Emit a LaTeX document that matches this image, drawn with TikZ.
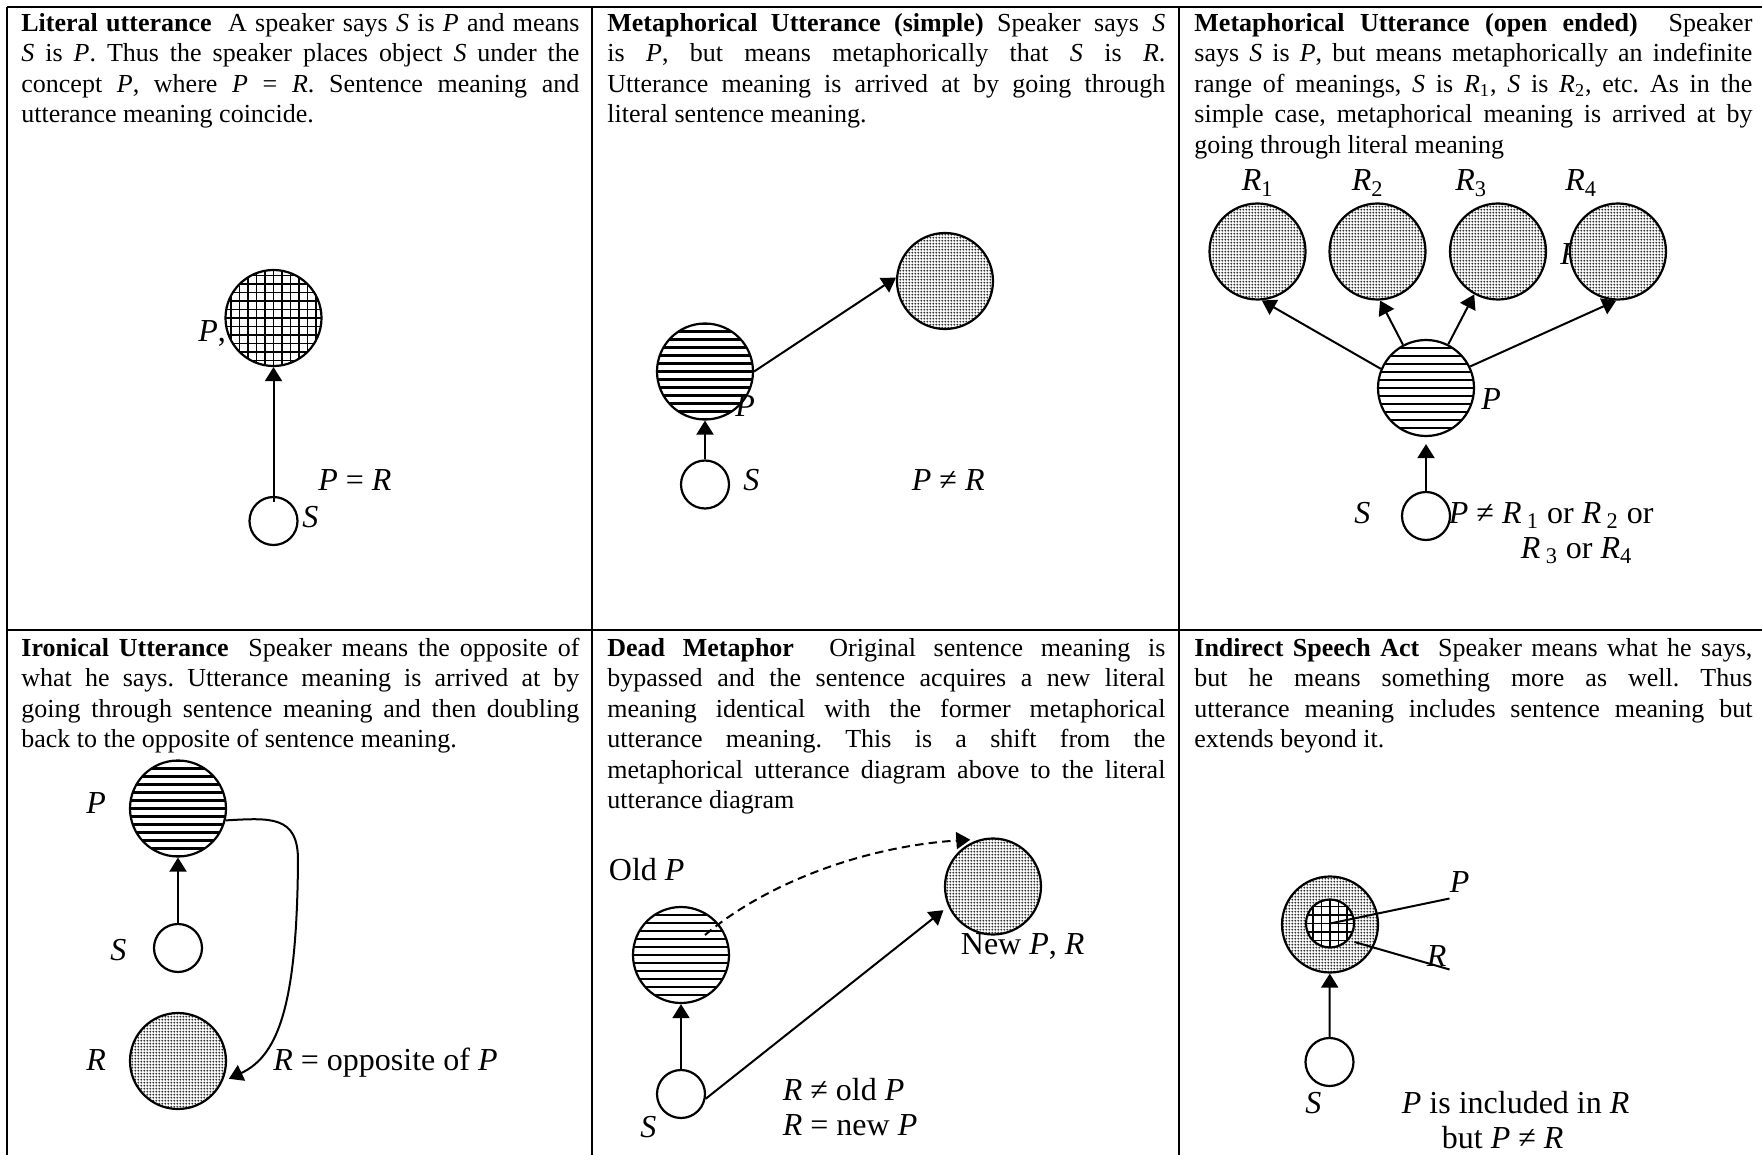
\documentclass[tikz,border=0pt]{standalone}
\usepackage{fontspec}
\setmainfont{Liberation Serif}
\usetikzlibrary{arrows.meta,patterns}
\pgfdeclarepatternformonly{finedots}{\pgfpointorigin}{\pgfpoint{1.4pt}{1.4pt}}{\pgfpoint{1.4pt}{1.4pt}}{%
  \pgfpathcircle{\pgfpoint{0.7pt}{0.7pt}}{0.55pt}\pgfusepath{fill}}
\hyphenpenalty=10000
\exhyphenpenalty=10000
\frenchspacing
\tikzset{
  border/.style={line width=1.3pt},
  body/.style={anchor=base west, inner sep=0pt, text width=279pt, align=justify,
    font=\fontsize{13}{15.25}\selectfont\frenchspacing},
  lbl/.style={anchor=base west, inner sep=0pt, font=\fontsize{16}{19}\selectfont},
  circbase/.style={circle, draw, line width=1.1pt, inner sep=0pt, fill=white},
  scirc/.style={circbase, minimum size=24pt},
  hl/.style={circbase, minimum size=48pt, path picture={
    \foreach \k in {-6,...,6}{
      \draw[line width=1.1pt] ([yshift=\k*4pt]path picture bounding box.west) -- ([yshift=\k*4pt]path picture bounding box.east);
    }}},
  xhatch/.style={circbase, path picture={
    \foreach \k in {-6,...,6}{
      \draw[line width=0.95pt] ([yshift=\k*4.25pt]path picture bounding box.west) -- ([yshift=\k*4.25pt]path picture bounding box.east);
      \draw[line width=0.95pt] ([xshift=\k*4.25pt]path picture bounding box.north) -- ([xshift=\k*4.25pt]path picture bounding box.south);
    }}},
  dotc/.style={circbase, minimum size=48pt, path picture={
    \fill[pattern=finedots, pattern color=black!80] (path picture bounding box.south west) rectangle (path picture bounding box.north east);}},
  arr/.style={line width=1pt, -{Triangle[length=7pt,width=8.5pt]}},
  darr/.style={arr, dash pattern={on 4.2pt off 2.6pt}},
  plain/.style={line width=1pt}
}
\begin{document}
\begin{tikzpicture}[x=0.5pt,y=-0.5pt]
\useasboundingbox (0,0) rectangle (1762,1155);
% table
\draw[border] (7,7) -- (1762,7);
\draw[border] (7,7) -- (7,1155);
\draw[border] (592,7) -- (592,1155);
\draw[border] (1179,7) -- (1179,1155);
\draw[border] (7,630) -- (1762,630);

% texts
\node[body] (t1) at (21,31.5) {\textbf{Literal utterance}\ \ A speaker says \textit{S} is \textit{P} and means\linebreak
\textit{S} is \textit{P}. Thus the speaker places object \textit{S} under the\linebreak
concept \textit{P}, where \textit{P} = \textit{R}. Sentence meaning and\linebreak
utterance meaning coincide.};
\node[body] (t2) at (607,31.5) {\textbf{Metaphorical Utterance (simple)} Speaker says \textit{S}\linebreak
is \textit{P}, but means metaphorically that \textit{S} is \textit{R}.\linebreak
Utterance meaning is arrived at by going through\linebreak
literal sentence meaning.};
\node[body] (t3) at (1194,31.5) {\textbf{Metaphorical Utterance (open ended)}\ \ Speaker\linebreak
says \textit{S} is \textit{P}, but means metaphorically an indefinite\linebreak
range of meanings, \textit{S} is \textit{R}\textsubscript{1}, \textit{S} is \textit{R}\textsubscript{2}, etc. As in the\linebreak
simple case, metaphorical meaning is arrived at by\linebreak
going through literal meaning};
\node[body] (t4) at (21,656) {\textbf{Ironical Utterance}\ \ Speaker means the opposite of\linebreak
what he says. Utterance meaning is arrived at by\linebreak
going through sentence meaning and then doubling\linebreak
back to the opposite of sentence meaning.};
\node[body] (t5) at (607,656) {\textbf{Dead Metaphor}\ \ Original sentence meaning is\linebreak
bypassed and the sentence acquires a new literal\linebreak
meaning identical with the former metaphorical\linebreak
utterance meaning. This is a shift from the\linebreak
metaphorical utterance diagram above to the literal\linebreak
utterance diagram};
\node[body] (t6) at (1194,656) {\textbf{Indirect Speech Act}\ \ Speaker means what he says,\linebreak
but he means something more as well. Thus\linebreak
utterance meaning includes sentence meaning but\linebreak
extends beyond it.};

% cell 1: literal
\node[xhatch, minimum size=48pt] (P1) at (273.5,318) {};
\node[scirc] (S1) at (273.5,521) {};
\draw[arr, shorten <=-3pt] (S1.north) -- (P1);
\node[lbl] (lP1) at (198,342) {\textit{P},};
\node[lbl] (lS1) at (302,527) {\textit{S}};
\node[lbl] (lE1) at (318,490.5) {\textit{P} = \textit{R}};

% cell 2: metaphor simple
\node[hl] (P2) at (705,371.5) {};
\node[dotc] (R2) at (945,281) {};
\node[scirc] (S2) at (705,484.5) {};
\draw[arr] (S2.north) -- (P2);
\draw[arr] (P2.east) -- (R2.176);
\node[lbl] (lP2) at (735,416) {\textit{P}};
\node[lbl] (lS2) at (743,490) {\textit{S}};
\node[lbl] (lE2) at (911.5,490) {\textit{P} ≠ \textit{R}};

% cell 3: metaphor open ended
\node[lbl] (hR) at (1560,265) {\textit{R}};
\node[dotc] (R31) at (1257.5,251.5) {};
\node[dotc] (R32) at (1377.5,251.5) {};
\node[dotc] (R33) at (1498,251.5) {};
\node[dotc] (R34) at (1618,251.5) {};
\node[lbl] (lR31) at (1241.5,191) {\textit{R}\textsubscript{1}};
\node[lbl] (lR32) at (1351.5,191) {\textit{R}\textsubscript{2}};
\node[lbl] (lR33) at (1455,191) {\textit{R}\textsubscript{3}};
\node[lbl] (lR34) at (1565,191) {\textit{R}\textsubscript{4}};
\node[hl] (P3) at (1426,388) {};
\node[scirc] (S3) at (1426,516) {};
\draw[arr, shorten >=3.5pt] (S3.north) -- (P3);
\draw[arr] (P3.157) -- (R31.-85);
\draw[arr] (P3.118) -- (R32.-87);
\draw[arr] (P3.63) -- (R33.-119);
\draw[arr] (P3.26) -- (R34.-92);
\node[lbl] (lP3) at (1481,409) {\textit{P}};
\node[lbl] (lS3) at (1354,523.5) {\textit{S}};
\node[lbl] (lE3a) at (1448.5,523.5) {\textit{P} ≠ \textit{R}\,\textsubscript{1} or \textit{R}\,\textsubscript{2} or};
\node[lbl] (lE3b) at (1520.5,558.5) {\textit{R}\,\textsubscript{3} or \textit{R}\textsubscript{4}};

% cell 4: ironical
\node[hl] (P4) at (178,808.5) {};
\node[scirc] (S4) at (178,948) {};
\node[dotc] (R4) at (178,1061) {};
\draw[arr] (S4.north) -- (P4);
\draw[arr, shorten >=3.5pt] (P4.-14) .. controls (270,818) and (298,815) .. (298,860)
  .. controls (297,1000) and (280,1055) .. (R4.-25);
\node[lbl] (lP4) at (86,813.5) {\textit{P}};
\node[lbl] (lS4) at (110,960) {\textit{S}};
\node[lbl] (lR4) at (86,1070.5) {\textit{R}};
\node[lbl] (lE4) at (273,1070) {\textit{R} = opposite of \textit{P}};

% cell 5: dead metaphor
\node[hl] (OP5) at (681,955) {};
\node[dotc] (NP5) at (993,886.5) {};
\node[scirc] (S5) at (681,1094) {};
\draw[arr] (S5.north) -- (OP5);
\draw[arr, shorten >=3pt] (S5.-11) -- (NP5.204);
\coordinate (d5) at (705,935);
\draw[darr, shorten >=5pt] (d5) .. controls (770,880) and (870,846) .. (NP5.105);
\node[lbl] (lOP5) at (608.5,880) {Old \textit{P}};
\node[lbl] (lNP5) at (960.5,954) {New \textit{P}, \textit{R}};
\node[lbl] (lS5) at (640,1137) {\textit{S}};
\node[lbl] (lE5a) at (782.5,1100) {\textit{R} ≠ old \textit{P}};
\node[lbl] (lE5b) at (782.5,1135) {\textit{R} = new \textit{P}};

% cell 6: indirect speech act
\node[dotc] (R6) at (1330,924.5) {};
\node[xhatch, minimum size=24pt] (P6) at (1330,923.5) {};
\node[scirc] (S6) at (1329.5,1062) {};
\draw[arr] (S6.north) -- (R6);
\coordinate (cP6) at (1449.5,898.5);
\coordinate (cR6) at (1449.5,969.5);
\node[lbl] (lP6) at (1449.5,892.5) {\textit{P}};
\node[lbl] (lR6) at (1426.5,966) {\textit{R}};
\draw[plain] (P6.center) -- (cP6);
\draw[plain, shorten <=3pt] (P6.-42) -- (cR6);
\node[lbl] (lS6) at (1305,1113) {\textit{S}};
\node[lbl] (lE6a) at (1401.5,1113.5) {\textit{P} is included in \textit{R}};
\node[lbl] (lE6b) at (1441.5,1148.5) {but \textit{P} ≠ \textit{R}};
\end{tikzpicture}
\end{document}
